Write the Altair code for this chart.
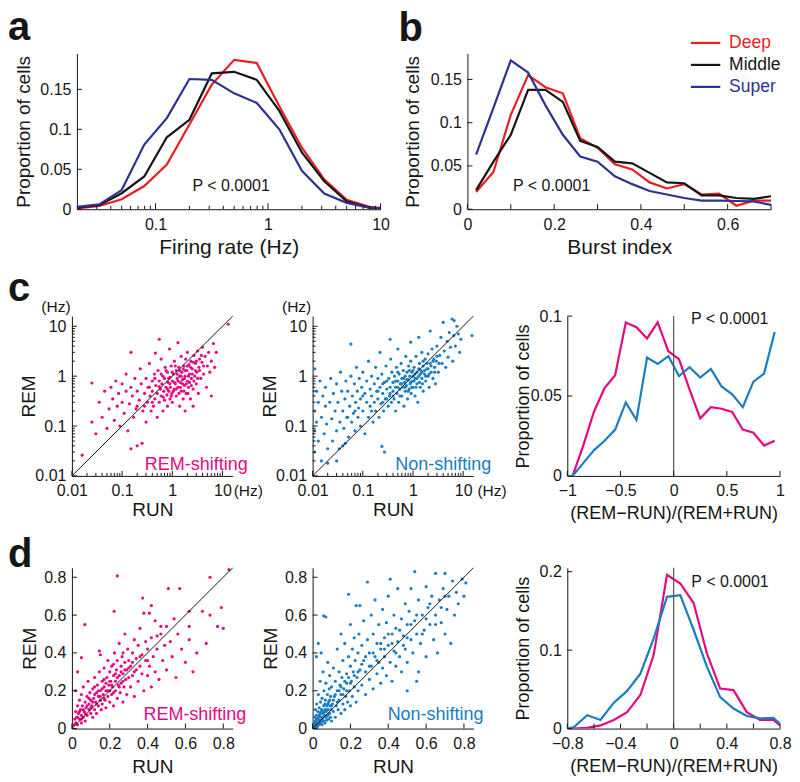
import altair as alt
import pandas as pd

FONT = "Liberation Sans"
RED = "#ec1c24"
BLACK = "#161616"
NAVY = "#2e3192"
MAGENTA = "#e5097f"
CYAN = "#1a7cc1"

layer_names = ["Deep", "Middle", "Super"]
layer_colors = [RED, BLACK, NAVY]

# ---------------- panel a : firing rate distributions
rate_bins = [0.02, 0.0316, 0.05, 0.0794, 0.126, 0.2, 0.316, 0.5, 0.794, 1.26, 2.0, 3.16, 5.0, 7.94, 12.6]
rate_deep = [0.001, 0.004, 0.0125, 0.029, 0.056, 0.106, 0.156, 0.187, 0.183, 0.129, 0.077, 0.0375, 0.0117, 0.003, 0.0]
rate_middle = [0.002, 0.005, 0.020, 0.041, 0.090, 0.112, 0.170, 0.172, 0.162, 0.123, 0.071, 0.035, 0.010, 0.002, 0.0]
rate_super = [0.003, 0.006, 0.024, 0.081, 0.114, 0.163, 0.162, 0.145, 0.133, 0.100, 0.048, 0.0196, 0.008, 0.002, 0.0]

# ---------------- panel b : burst index distributions
burst_bins = [0.02, 0.06, 0.10, 0.14, 0.18, 0.22, 0.26, 0.30, 0.34, 0.38, 0.42, 0.46, 0.50, 0.54, 0.58, 0.62, 0.66, 0.70]
burst_deep = [0.020, 0.043, 0.109, 0.155, 0.141, 0.134, 0.082, 0.071, 0.052, 0.046, 0.031, 0.024, 0.029, 0.017, 0.018, 0.004, 0.010, 0.010]
burst_middle = [0.022, 0.055, 0.086, 0.138, 0.138, 0.124, 0.079, 0.072, 0.055, 0.053, 0.042, 0.031, 0.030, 0.016, 0.016, 0.013, 0.012, 0.015]
burst_super = [0.063, 0.117, 0.172, 0.158, 0.120, 0.086, 0.061, 0.055, 0.038, 0.029, 0.021, 0.017, 0.013, 0.010, 0.010, 0.0095, 0.009, 0.005]

# ---------------- panel c : RUN vs REM firing rate (Hz)
c_shift_pts = [
    (0.016, 0.026), (0.025, 0.12), (0.025, 0.73), (0.03, 0.07), (0.035, 0.3), (0.04, 0.15), (0.045, 0.5), (0.05, 0.09),
    (0.055, 0.22), (0.06, 0.6), (0.065, 0.35), (0.07, 0.13), (0.075, 0.8), (0.08, 0.25), (0.085, 0.45), (0.09, 0.1),
    (0.1, 0.3), (0.1, 0.7), (0.11, 0.18), (0.12, 1.1), (0.12, 0.5), (0.13, 0.08), (0.14, 0.28), (0.15, 3.0),
    (0.15, 0.035), (0.15, 0.6), (0.16, 0.4), (0.17, 0.15), (0.18, 0.9), (0.19, 0.22), (0.2, 0.04), (0.2, 0.5),
    (0.22, 0.33), (0.23, 1.4), (0.24, 0.7), (0.25, 0.045), (0.26, 0.2), (0.28, 0.45), (0.3, 0.12), (0.3, 0.9),
    (0.32, 0.3), (0.33, 0.6), (0.35, 1.8), (0.36, 0.4), (0.38, 0.2), (0.4, 0.8), (0.4, 0.5), (0.42, 0.25),
    (0.44, 1.1), (0.45, 0.35), (0.46, 2.9), (0.47, 0.65), (0.5, 0.15), (0.5, 0.45), (0.52, 1.3), (0.55, 0.3),
    (0.55, 0.8), (0.58, 0.55), (0.6, 2.2), (0.6, 0.4), (0.62, 0.7), (0.65, 1.0), (0.65, 0.2), (0.68, 0.5),
    (0.7, 0.33), (0.7, 0.9), (0.72, 1.5), (0.75, 0.6), (0.78, 0.42), (0.8, 1.2), (0.8, 0.25), (0.82, 0.75),
    (0.85, 0.5), (0.88, 3.5), (0.9, 0.95), (0.9, 0.35), (0.92, 0.6), (0.95, 1.6), (0.98, 0.45),
    (1.0, 0.8), (1.0, 0.3), (1.05, 1.1), (1.1, 0.55), (1.1, 2.0), (1.15, 0.7), (1.2, 0.4), (1.2, 1.3),
    (1.25, 0.9), (1.3, 4.7), (1.3, 0.6), (1.35, 1.5), (1.4, 0.25), (1.4, 1.0), (1.45, 0.75), (1.5, 2.5),
    (1.5, 0.5), (1.55, 1.2), (1.6, 0.85), (1.65, 0.35), (1.7, 1.6), (1.75, 0.65), (1.8, 1.0), (1.85, 2.2),
    (1.9, 0.45), (1.95, 1.3), (2.0, 0.8), (2.0, 3.0), (2.1, 0.6), (2.15, 1.7), (2.2, 1.1), (2.3, 0.35),
    (2.35, 2.0), (2.4, 0.9), (2.5, 1.4), (2.6, 0.55), (2.7, 2.6), (2.8, 1.0), (2.9, 1.8), (3.0, 0.7),
    (3.1, 1.2), (3.2, 3.2), (3.3, 0.45), (3.4, 1.5), (3.5, 2.2), (3.7, 0.9), (3.9, 1.9), (4.0, 3.8),
    (4.2, 1.1), (4.5, 2.5), (4.8, 0.6), (5.0, 1.6), (5.3, 3.0), (5.6, 1.2), (6.0, 2.0), (6.6, 4.5),
    (7.0, 1.5), (7.5, 3.0), (13.0, 11.0), (0.55, 5.5), (1.8, 0.2), (2.6, 0.25), (6.0, 0.4),
]
c_shift_core = [
    (0.55, 0.62), (0.6, 1.1), (0.66, 0.38), (0.75, 1.3), (0.8, 0.55), (0.85, 0.9), (0.9, 0.7), (0.95, 0.4),
    (1.0, 1.2), (1.05, 0.5), (1.1, 0.75), (1.15, 1.6), (1.2, 0.55), (1.25, 1.1), (1.3, 0.8), (1.35, 0.45),
    (1.4, 1.3), (1.45, 0.6), (1.5, 1.0), (1.6, 0.7), (1.65, 1.4), (1.7, 0.5), (1.75, 0.9), (1.8, 1.3),
    (1.9, 0.7), (2.0, 1.6), (2.05, 0.45), (2.1, 1.0), (2.2, 0.75), (2.3, 1.5), (2.4, 0.65), (2.5, 1.1),
    (2.6, 1.9), (2.7, 0.8), (2.9, 1.3), (3.0, 2.0), (3.2, 0.9), (3.5, 1.3), (3.8, 2.6), (4.2, 1.6),
    (0.35, 0.6), (0.45, 0.9), (0.28, 0.25), (0.4, 0.3), (0.2, 0.25),
]
c_non_pts = [
    (0.011, 0.03), (0.011, 0.08), (0.011, 0.2), (0.012, 0.5), (0.011, 1.4), (0.012, 0.12), (0.013, 0.05), (0.013, 0.3),
    (0.014, 0.8), (0.015, 0.02), (0.015, 0.15), (0.016, 0.4), (0.017, 0.07), (0.018, 0.25), (0.018, 0.6), (0.019, 0.11),
    (0.02, 0.035), (0.02, 0.018), (0.022, 0.3), (0.023, 0.9), (0.024, 0.14), (0.025, 0.05), (0.026, 0.45), (0.028, 0.2),
    (0.03, 0.08), (0.03, 0.7), (0.032, 0.3), (0.034, 0.035), (0.035, 0.12), (0.036, 1.2), (0.038, 0.5), (0.04, 0.2),
    (0.04, 0.04), (0.042, 0.09), (0.044, 0.35), (0.046, 0.8), (0.048, 0.15), (0.05, 0.5), (0.052, 0.06), (0.055, 0.25),
    (0.058, 4.4), (0.058, 1.0), (0.06, 0.12), (0.062, 0.4), (0.065, 0.18), (0.068, 0.7), (0.07, 0.08), (0.072, 0.3),
    (0.075, 1.5), (0.078, 0.5), (0.08, 0.15), (0.082, 0.23), (0.085, 0.9), (0.09, 0.35), (0.09, 0.1), (0.095, 0.6),
    (0.1, 0.2), (0.1, 1.2), (0.11, 0.45), (0.11, 0.07), (0.12, 0.3), (0.12, 0.8), (0.13, 2.0), (0.13, 0.15),
    (0.14, 0.55), (0.14, 0.25), (0.15, 1.0), (0.15, 0.4), (0.16, 0.12), (0.17, 0.7), (0.17, 0.3), (0.18, 1.5),
    (0.18, 0.2), (0.19, 0.5), (0.2, 0.9), (0.2, 0.35), (0.21, 0.15), (0.22, 0.6), (0.22, 3.0), (0.23, 0.28),
    (0.24, 0.039), (0.24, 1.1), (0.25, 0.45), (0.26, 0.2), (0.27, 0.03), (0.27, 0.75), (0.28, 0.35), (0.29, 1.6),
    (0.3, 0.55), (0.32, 0.25), (0.33, 0.9), (0.34, 0.4), (0.35, 0.6), (0.36, 2.2), (0.37, 0.3), (0.38, 1.2),
    (0.4, 0.5), (0.4, 0.75), (0.42, 0.35), (0.43, 1.0), (0.45, 0.2), (0.45, 0.6), (0.47, 1.5), (0.48, 0.45),
    (0.5, 0.8), (0.5, 3.5), (0.52, 0.3), (0.53, 1.1), (0.55, 0.55), (0.56, 0.7), (0.58, 1.8), (0.6, 0.4),
    (0.6, 0.9), (0.62, 0.6), (0.64, 1.3), (0.66, 0.25), (0.68, 0.75), (0.7, 1.0), (0.7, 0.5), (0.72, 2.5),
    (0.74, 0.65), (0.76, 1.2), (0.78, 0.35), (0.8, 0.85), (0.82, 1.6), (0.84, 0.55), (0.86, 1.0), (0.88, 0.7),
    (0.9, 2.0), (0.92, 0.45), (0.95, 1.2), (0.97, 0.8), (1.0, 1.0), (1.0, 0.6), (1.05, 1.5), (1.1, 0.4),
    (1.1, 0.9), (1.15, 2.5), (1.2, 1.2), (1.2, 0.7), (1.25, 0.3), (1.3, 1.0), (1.35, 1.8), (1.4, 0.6),
    (1.45, 1.3), (1.5, 0.9), (1.5, 3.0), (1.6, 1.6), (1.6, 0.5), (1.7, 1.1), (1.75, 2.2), (1.8, 0.8),
    (1.9, 1.4), (2.0, 1.0), (2.0, 2.8), (2.1, 0.6), (2.2, 1.8), (2.3, 1.2), (2.4, 3.5), (2.5, 0.9),
    (2.6, 2.2), (2.7, 1.5), (2.8, 0.7), (2.9, 2.0), (3.0, 4.0), (3.2, 1.2), (3.4, 2.6), (3.6, 6.0),
    (3.8, 1.8), (4.0, 12.0), (4.2, 3.2), (4.5, 1.5), (4.8, 5.0), (5.0, 2.4), (5.3, 7.5), (5.6, 3.8),
    (6.0, 14.0), (6.2, 2.0), (6.5, 6.5), (7.0, 4.0), (7.5, 10.0), (8.0, 7.0), (8.5, 3.0), (9.0, 5.5),
    (15.0, 6.5), (6.6, 13.0), (0.9, 4.8), (1.3, 6.0), (2.2, 8.0), (0.35, 5.5), (0.03, 0.02), (0.045, 0.045),
]
c_non_core = [
    (0.3, 0.35), (0.35, 0.45), (0.4, 0.4), (0.45, 0.8), (0.5, 0.6), (0.55, 0.4), (0.6, 0.7), (0.65, 0.9),
    (0.7, 0.6), (0.75, 0.85), (0.8, 0.5), (0.85, 1.3), (0.9, 0.75), (0.95, 0.6), (1.0, 1.3), (1.05, 0.8),
    (1.1, 1.1), (1.15, 0.6), (1.2, 0.9), (1.3, 1.4), (1.35, 0.75), (1.4, 1.1), (1.5, 1.2), (1.55, 0.7),
    (1.6, 2.0), (1.7, 1.3), (1.8, 1.0), (1.9, 1.8), (2.0, 1.4), (2.1, 1.1), (2.3, 1.6), (2.5, 2.0),
    (2.7, 1.2), (3.0, 2.5), (3.3, 1.8), (0.25, 0.3), (0.2, 0.5), (0.15, 0.2), (0.1, 0.4), (0.07, 0.2),
    (0.05, 0.15), (0.3, 0.8), (0.5, 1.2), (0.25, 0.7),
]

ratio_bins_c = [-0.95, -0.85, -0.75, -0.65, -0.55, -0.45, -0.35, -0.25, -0.15, -0.05,
                0.05, 0.15, 0.25, 0.35, 0.45, 0.55, 0.65, 0.75, 0.85, 0.95]
ratio_c_shift = [0.0, 0.019, 0.040, 0.055, 0.063, 0.096, 0.093, 0.086, 0.096, 0.078,
                 0.073, 0.054, 0.036, 0.043, 0.042, 0.040, 0.029, 0.027, 0.019, 0.022]
ratio_c_non = [0.0, 0.008, 0.016, 0.022, 0.029, 0.046, 0.035, 0.074, 0.070, 0.075,
               0.0625, 0.068, 0.0615, 0.067, 0.056, 0.051, 0.043, 0.059, 0.064, 0.090]

# ---------------- panel d : RUN vs REM burst index
d_shift_pts = [
    (0.01, 0.02), (0.015, 0.05), (0.02, 0.03), (0.02, 0.09), (0.025, 0.06), (0.03, 0.02), (0.03, 0.12), (0.035, 0.08),
    (0.04, 0.05), (0.04, 0.15), (0.045, 0.1), (0.05, 0.03), (0.05, 0.07), (0.05, 0.18), (0.055, 0.12), (0.06, 0.06),
    (0.06, 0.22), (0.065, 0.09), (0.07, 0.14), (0.07, 0.04), (0.075, 0.11), (0.08, 0.17), (0.08, 0.07), (0.085, 0.25),
    (0.09, 0.1), (0.09, 0.13), (0.095, 0.19), (0.1, 0.08), (0.1, 0.15), (0.068, 0.55), (0.05, 0.375), (0.03, 0.3),
    (0.02, 0.2), (0.105, 0.12), (0.11, 0.21), (0.11, 0.06), (0.115, 0.16), (0.12, 0.1), (0.12, 0.27), (0.125, 0.14),
    (0.13, 0.19), (0.13, 0.08), (0.135, 0.23), (0.14, 0.12), (0.14, 0.17), (0.145, 0.41), (0.145, 0.3), (0.15, 0.39),
    (0.15, 0.15), (0.15, 0.2), (0.155, 0.1), (0.16, 0.25), (0.16, 0.13), (0.165, 0.18), (0.17, 0.22), (0.17, 0.32),
    (0.175, 0.15), (0.18, 0.2), (0.18, 0.11), (0.185, 0.27), (0.19, 0.17), (0.19, 0.36), (0.195, 0.23), (0.2, 0.14),
    (0.2, 0.3), (0.2, 0.2), (0.205, 0.25), (0.21, 0.18), (0.21, 0.33), (0.215, 0.22), (0.22, 0.12), (0.22, 0.28),
    (0.223, 0.62), (0.225, 0.4), (0.23, 0.2), (0.23, 0.25), (0.235, 0.31), (0.24, 0.807), (0.24, 0.16), (0.24, 0.36),
    (0.245, 0.23), (0.25, 0.28), (0.25, 0.45), (0.255, 0.19), (0.26, 0.33), (0.26, 0.24), (0.265, 0.38), (0.27, 0.14),
    (0.27, 0.29), (0.275, 0.22), (0.28, 0.35), (0.28, 0.5), (0.285, 0.26), (0.29, 0.31), (0.29, 0.18), (0.295, 0.42),
    (0.3, 0.27), (0.3, 0.36), (0.31, 0.22), (0.31, 0.33), (0.32, 0.4), (0.32, 0.28), (0.33, 0.47), (0.33, 0.17),
    (0.34, 0.31), (0.34, 0.37), (0.35, 0.25), (0.35, 0.44), (0.36, 0.33), (0.36, 0.53), (0.37, 0.29), (0.37, 0.39),
    (0.374, 0.69), (0.38, 0.61), (0.38, 0.2), (0.39, 0.36), (0.39, 0.46), (0.4, 0.28), (0.4, 0.42), (0.41, 0.61),
    (0.41, 0.33), (0.42, 0.65), (0.42, 0.48), (0.42, 0.22), (0.43, 0.38), (0.44, 0.57), (0.44, 0.3), (0.45, 0.49),
    (0.45, 0.42), (0.46, 0.26), (0.47, 0.54), (0.47, 0.5), (0.48, 0.36), (0.49, 0.44), (0.5, 0.54), (0.5, 0.31),
    (0.51, 0.74), (0.52, 0.46), (0.53, 0.38), (0.54, 0.58), (0.55, 0.27), (0.56, 0.5), (0.57, 0.74), (0.58, 0.42),
    (0.6, 0.35), (0.62, 0.62), (0.62, 0.54), (0.62, 0.47), (0.64, 0.3), (0.66, 0.4), (0.69, 0.62), (0.71, 0.45),
    (0.73, 0.6), (0.73, 0.8), (0.77, 0.54), (0.79, 0.64), (0.8, 0.53), (0.83, 0.84),
]
d_shift_core = [
    (0.06, 0.1), (0.07, 0.08), (0.08, 0.12), (0.09, 0.16), (0.1, 0.11), (0.11, 0.14), (0.12, 0.18), (0.13, 0.13),
    (0.14, 0.2), (0.15, 0.17), (0.16, 0.21), (0.17, 0.16), (0.18, 0.24), (0.19, 0.2), (0.2, 0.25), (0.21, 0.23),
    (0.22, 0.19), (0.23, 0.29), (0.24, 0.27), (0.25, 0.22), (0.26, 0.3), (0.27, 0.25), (0.28, 0.31), (0.3, 0.32),
    (0.32, 0.35), (0.05, 0.05), (0.04, 0.09), (0.03, 0.06), (0.12, 0.22), (0.17, 0.26), (0.22, 0.34), (0.27, 0.4),
    (0.33, 0.3), (0.36, 0.38), (0.4, 0.36),
]
d_non_pts = [
    (0.005, 0.01), (0.008, 0.03), (0.01, 0.005), (0.01, 0.06), (0.012, 0.02), (0.015, 0.1), (0.015, 0.04), (0.018, 0.015),
    (0.02, 0.07), (0.02, 0.03), (0.022, 0.13), (0.025, 0.05), (0.025, 0.01), (0.028, 0.09), (0.03, 0.03), (0.03, 0.18),
    (0.032, 0.06), (0.035, 0.11), (0.035, 0.02), (0.038, 0.045), (0.04, 0.08), (0.04, 0.25), (0.042, 0.14), (0.045, 0.035),
    (0.045, 0.06), (0.048, 0.1), (0.05, 0.02), (0.05, 0.16), (0.052, 0.05), (0.055, 0.08), (0.055, 0.3), (0.058, 0.12),
    (0.06, 0.04), (0.06, 0.2), (0.062, 0.07), (0.065, 0.1), (0.065, 0.03), (0.068, 0.15), (0.07, 0.06), (0.07, 0.24),
    (0.072, 0.09), (0.075, 0.045), (0.075, 0.12), (0.078, 0.18), (0.08, 0.07), (0.08, 0.35), (0.082, 0.1), (0.085, 0.05),
    (0.085, 0.14), (0.088, 0.21), (0.09, 0.08), (0.09, 0.28), (0.092, 0.12), (0.095, 0.06), (0.095, 0.17), (0.098, 0.1),
    (0.059, 0.596), (0.07, 0.59), (0.03, 0.45), (0.02, 0.38), (0.045, 0.4),
    (0.1, 0.04), (0.1, 0.22), (0.105, 0.13), (0.11, 0.09), (0.11, 0.32), (0.115, 0.17), (0.12, 0.06), (0.12, 0.25),
    (0.125, 0.12), (0.13, 0.2), (0.13, 0.42), (0.135, 0.1), (0.14, 0.15), (0.14, 0.3), (0.145, 0.23), (0.15, 0.08),
    (0.15, 0.18), (0.15, 0.5), (0.155, 0.27), (0.16, 0.13), (0.16, 0.36), (0.165, 0.21), (0.17, 0.1), (0.17, 0.45),
    (0.175, 0.17), (0.18, 0.29), (0.18, 0.24), (0.185, 0.14), (0.19, 0.38), (0.19, 0.71), (0.195, 0.2), (0.2, 0.33),
    (0.2, 0.12), (0.2, 0.55), (0.205, 0.25), (0.21, 0.42), (0.21, 0.17), (0.215, 0.3), (0.22, 0.48), (0.22, 0.22),
    (0.225, 0.36), (0.23, 0.65), (0.23, 0.14), (0.235, 0.27), (0.24, 0.4), (0.24, 0.2), (0.245, 0.5), (0.25, 0.65),
    (0.25, 0.31), (0.26, 0.23), (0.26, 0.44), (0.27, 0.36), (0.27, 0.57), (0.28, 0.18), (0.28, 0.3), (0.29, 0.775),
    (0.29, 0.47), (0.3, 0.26), (0.3, 0.4), (0.31, 0.6), (0.31, 0.33), (0.32, 0.21), (0.32, 0.5), (0.33, 0.38),
    (0.33, 0.68), (0.34, 0.29), (0.34, 0.45), (0.35, 0.55), (0.35, 0.35), (0.36, 0.24), (0.36, 0.42), (0.37, 0.63),
    (0.37, 0.32), (0.38, 0.48), (0.38, 0.38), (0.39, 0.28), (0.39, 0.56), (0.4, 0.44), (0.4, 0.7), (0.41, 0.79),
    (0.41, 0.35), (0.42, 0.5), (0.42, 0.25), (0.43, 0.6), (0.43, 0.41), (0.44, 0.33), (0.44, 0.53), (0.45, 0.46),
    (0.45, 0.74), (0.46, 0.38), (0.47, 0.58), (0.47, 0.3), (0.48, 0.49), (0.49, 0.66), (0.49, 0.42), (0.5, 0.55),
    (0.5, 0.35), (0.51, 0.62), (0.52, 0.47), (0.52, 0.74), (0.53, 0.4), (0.54, 0.83), (0.54, 0.57), (0.55, 0.5),
    (0.56, 0.3), (0.56, 0.68), (0.57, 0.45), (0.58, 0.6), (0.59, 0.52), (0.6, 0.75), (0.6, 0.38), (0.61, 0.64),
    (0.62, 0.55), (0.63, 0.7), (0.64, 0.47), (0.65, 0.82), (0.65, 0.6), (0.66, 0.4), (0.67, 0.68), (0.68, 0.56),
    (0.69, 0.74), (0.7, 0.82), (0.7, 0.5), (0.71, 0.63), (0.72, 0.7), (0.73, 0.45), (0.74, 0.78), (0.75, 0.6),
    (0.76, 0.72), (0.77, 0.66), (0.79, 0.79), (0.8, 0.7), (0.81, 0.77), (0.5, 0.2), (0.55, 0.25),
]
d_non_core = [
    (0.01, 0.02), (0.015, 0.015), (0.02, 0.05), (0.025, 0.025), (0.03, 0.045), (0.035, 0.07), (0.04, 0.03), (0.045, 0.09),
    (0.05, 0.06), (0.055, 0.04), (0.06, 0.09), (0.065, 0.13), (0.07, 0.1), (0.075, 0.07), (0.08, 0.13), (0.09, 0.15),
    (0.1, 0.12), (0.11, 0.15), (0.12, 0.18), (0.13, 0.14), (0.14, 0.2), (0.15, 0.22), (0.16, 0.18), (0.17, 0.25),
    (0.18, 0.2), (0.19, 0.27), (0.2, 0.24), (0.22, 0.28), (0.24, 0.3), (0.26, 0.34), (0.28, 0.38), (0.3, 0.33),
    (0.32, 0.4), (0.34, 0.36), (0.36, 0.45), (0.38, 0.42), (0.4, 0.5), (0.42, 0.45), (0.44, 0.4), (0.46, 0.52),
    (0.48, 0.44), (0.5, 0.48), (0.52, 0.55), (0.55, 0.6), (0.58, 0.5), (0.6, 0.58), (0.62, 0.66), (0.65, 0.55),
    (0.68, 0.64), (0.7, 0.7),
]

ratio_bins_d = [-0.8, -0.75, -0.65, -0.55, -0.45, -0.35, -0.25, -0.15, -0.05,
                0.05, 0.15, 0.25, 0.35, 0.45, 0.55, 0.65, 0.75, 0.8]
ratio_d_shift = [0.0, 0.0, 0.001, 0.004, 0.011, 0.021, 0.043, 0.094, 0.196,
                 0.185, 0.160, 0.096, 0.051, 0.049, 0.021, 0.011, 0.011, 0.004]
ratio_d_non = [0.0, 0.002, 0.017, 0.011, 0.033, 0.048, 0.070, 0.115, 0.168,
               0.170, 0.126, 0.079, 0.040, 0.0255, 0.016, 0.013, 0.0136, 0.006]

# tick positions
log_major_a = [0.1, 1, 10]
log_minor_a = [0.03, 0.04, 0.05, 0.06, 0.07, 0.08, 0.09, 0.2, 0.3, 0.4, 0.5, 0.6, 0.7, 0.8, 0.9,
               2, 3, 4, 5, 6, 7, 8, 9]
log_major_c = [0.01, 0.1, 1, 10]
log_minor_c = [0.02, 0.03, 0.04, 0.05, 0.06, 0.07, 0.08, 0.09, 0.2, 0.3, 0.4, 0.5, 0.6, 0.7, 0.8, 0.9,
               2, 3, 4, 5, 6, 7, 8, 9]
prop_ticks_ab = [0, 0.05, 0.1, 0.15]
burst_ticks = [0, 0.1, 0.2, 0.3, 0.4, 0.5, 0.6, 0.7]
burst_labels = [0, 0.2, 0.4, 0.6]
ratio_ticks_c = [-1, -0.5, 0, 0.5, 1]
prop_ticks_c = [0, 0.05, 0.1]
lin_ticks_d = [0, 0.2, 0.4, 0.6, 0.8]
ratio_ticks_d = [-0.8, -0.6, -0.4, -0.2, 0, 0.2, 0.4, 0.6, 0.8]
ratio_labels_d = [-0.8, -0.4, 0, 0.4, 0.8]
prop_ticks_d = [0, 0.1, 0.2]


# ---------------- helpers
def long_df(xs, series):
    rows = []
    for name, vals in series:
        for xv, yv in zip(xs, vals):
            rows.append({"x": xv, "y": yv, "grp": name})
    return pd.DataFrame(rows)


def pts_df(pts):
    return pd.DataFrame({"x": [p[0] for p in pts], "y": [p[1] for p in pts]})


def xaxis(title, values, tsize, ty):
    return alt.Axis(title=title, values=values, format="~g", ticks=False, tickSize=0,
                    domainColor=BLACK, domainWidth=1, labelFont=FONT, labelFontSize=16,
                    labelColor=BLACK, labelPadding=7, labelFlush=False, labelOverlap=False,
                    grid=False, titleFont=FONT, titleFontSize=tsize, titleFontWeight="normal",
                    titleColor=BLACK, titleAlign="center", titleBaseline="alphabetic", titleY=ty)


def yaxis(title, values, tsize, tx, offset=0):
    return alt.Axis(title=title, values=values, format="~g", ticks=False, tickSize=0,
                    domainColor=BLACK, domainWidth=1, labelFont=FONT, labelFontSize=16,
                    labelColor=BLACK, labelPadding=6, labelFlush=False, labelOverlap=False,
                    grid=False, titleFont=FONT, titleFontSize=tsize, titleFontWeight="normal",
                    titleColor=BLACK, titleAlign="center", titleBaseline="middle", titleX=tx,
                    offset=offset)


def xticks(vals, xs, xax, H, L):
    return alt.Chart(pd.DataFrame({"v": vals})).mark_rule(color=BLACK, strokeWidth=1).encode(
        x=alt.X("v:Q", scale=xs, axis=xax), y=alt.value(H), y2=alt.value(H - L))


def yticks(vals, ys, yax, L, x0=0):
    return alt.Chart(pd.DataFrame({"v": vals})).mark_rule(color=BLACK, strokeWidth=1).encode(
        y=alt.Y("v:Q", scale=ys, axis=yax), x=alt.value(x0), x2=alt.value(x0 + L))


def note(text, x, y, xs, xax, ys, yax, color=BLACK, size=16, align="left", baseline="alphabetic", dx=0, dy=0):
    return alt.Chart(pd.DataFrame({"x": [x], "y": [y], "t": [text]})).mark_text(
        font=FONT, fontSize=size, color=color, align=align, baseline=baseline, dx=dx, dy=dy).encode(
        x=alt.X("x:Q", scale=xs, axis=xax), y=alt.Y("y:Q", scale=ys, axis=yax), text="t:N")


def letter(ch, dx, dy):
    return alt.TitleParams(ch, anchor="start", frame="group", dx=dx, dy=dy, fontSize=40,
                           fontWeight="bold", font=FONT, color=BLACK, offset=0)


def spacer(w, h):
    return alt.Chart(pd.DataFrame({"z": [0]})).mark_point(opacity=0).encode(
        x=alt.X("z:Q", axis=None), y=alt.Y("z:Q", axis=None)).properties(width=w, height=h)


cscale = alt.Scale(domain=layer_names, range=layer_colors)

# ---------------- panel a  (plot box starts 5 px left of its y axis)
WA, HA = 309, 156
a_xs = alt.Scale(type="log", domain=[0.02, 10], nice=False, range=[5, WA])
a_ys = alt.Scale(domain=[0, 0.195], nice=False, zero=False)
a_xax = xaxis("Firing rate (Hz)", log_major_a, 21, 44)
a_yax = yaxis("Proportion of cells", prop_ticks_ab, 19, -53, offset=-5)
a_df = long_df(rate_bins, [("Deep", rate_deep), ("Middle", rate_middle), ("Super", rate_super)])
a_lines = alt.Chart(a_df).mark_line(strokeWidth=2.2, clip=True).encode(
    x=alt.X("x:Q", scale=a_xs, axis=a_xax),
    y=alt.Y("y:Q", scale=a_ys, axis=a_yax),
    color=alt.Color("grp:N", scale=cscale, legend=None),
    order=alt.Order("x:Q"))
panel_a = alt.layer(
    a_lines,
    xticks(log_major_a, a_xs, a_xax, HA, 6),
    xticks(log_minor_a, a_xs, a_xax, HA, 3.5),
    yticks(prop_ticks_ab, a_ys, a_yax, 5, x0=5),
    note("P < 0.0001", 0.213, 0.0225, a_xs, a_xax, a_ys, a_yax),
).properties(width=WA, height=HA, title=letter("a", -64, -5))

# ---------------- panel b
b_xs = alt.Scale(domain=[0, 0.7], nice=False, zero=False)
b_ys = alt.Scale(domain=[0, 0.18], nice=False, zero=False)
b_xax = xaxis("Burst index", burst_labels, 21, 44)
b_yax = yaxis("Proportion of cells", prop_ticks_ab, 19, -55)
b_df = long_df(burst_bins, [("Deep", burst_deep), ("Middle", burst_middle), ("Super", burst_super)])
legend_color = {"expr": "datum.label === 'Deep' ? '%s' : (datum.label === 'Middle' ? '%s' : '%s')" % (RED, BLACK, NAVY)}
b_lines = alt.Chart(b_df).mark_line(strokeWidth=2.2, clip=True).encode(
    x=alt.X("x:Q", scale=b_xs, axis=b_xax),
    y=alt.Y("y:Q", scale=b_ys, axis=b_yax),
    color=alt.Color("grp:N", scale=cscale, legend=alt.Legend(
        orient="none", legendX=225, legendY=-24, title=None, symbolType="M-1.2,0H1.2", symbolSize=600,
        symbolStrokeWidth=2.2, labelFont=FONT, labelFontSize=17.5, labelOffset=10, rowPadding=0,
        labelColor=legend_color)),
    order=alt.Order("x:Q"))
panel_b = alt.layer(
    b_lines,
    xticks(burst_ticks, b_xs, b_xax, HA, 5),
    yticks(prop_ticks_ab, b_ys, b_yax, 5),
    note("P < 0.0001", 0.105, 0.0206, b_xs, b_xax, b_ys, b_yax),
).properties(width=304, height=HA, title=letter("b", -69, 20))


# ---------------- scatter builders
def log_scatter(pts, color, label, label_x, title_letter, hz_right_dx):
    W, H = 161, 160
    xs = alt.Scale(type="log", domain=[0.01, 16], nice=False)
    ys = alt.Scale(type="log", domain=[0.01, 16], nice=False)
    xax = xaxis("RUN", log_major_c, 19, 40)
    yax = yaxis("REM", log_major_c, 19, -43)
    dots = alt.Chart(pts_df(pts)).mark_circle(size=10, color=color, opacity=1).encode(
        x=alt.X("x:Q", scale=xs, axis=xax), y=alt.Y("y:Q", scale=ys, axis=yax))
    diag = alt.Chart(pd.DataFrame({"x": [0.01, 16], "y": [0.01, 16]})).mark_line(
        color=BLACK, strokeWidth=1).encode(
        x=alt.X("x:Q", scale=xs, axis=xax), y=alt.Y("y:Q", scale=ys, axis=yax))
    ch = alt.layer(
        dots, diag,
        xticks(log_major_c, xs, xax, H, 5), xticks(log_minor_c, xs, xax, H, 3),
        yticks(log_major_c, ys, yax, 5), yticks(log_minor_c, ys, yax, 3),
        note(label, label_x, 0.013, xs, xax, ys, yax, color=color, size=18, align="center"),
        note("(Hz)", 0.01, 16, xs, xax, ys, yax, size=15.5, align="center", baseline="middle", dx=-16, dy=-9),
        note("(Hz)", 16, 0.01, xs, xax, ys, yax, size=15.5, align="left", baseline="middle", dx=hz_right_dx, dy=15),
    ).properties(width=W, height=H)
    if title_letter:
        ch = ch.properties(title=letter(title_letter, -64, 9))
    return ch


def lin_scatter(pts, color, label, title_letter):
    W, H = 161, 161
    xs = alt.Scale(domain=[0, 0.85], nice=False, zero=False)
    ys = alt.Scale(domain=[0, 0.85], nice=False, zero=False)
    xax = xaxis("RUN", lin_ticks_d, 19, 44)
    yax = yaxis("REM", lin_ticks_d, 19, -42)
    dots = alt.Chart(pts_df(pts)).mark_circle(size=10, color=color, opacity=1).encode(
        x=alt.X("x:Q", scale=xs, axis=xax), y=alt.Y("y:Q", scale=ys, axis=yax))
    diag = alt.Chart(pd.DataFrame({"x": [0, 0.85], "y": [0, 0.85]})).mark_line(
        color=BLACK, strokeWidth=1).encode(
        x=alt.X("x:Q", scale=xs, axis=xax), y=alt.Y("y:Q", scale=ys, axis=yax))
    ch = alt.layer(
        dots, diag,
        xticks(lin_ticks_d, xs, xax, H, 5), yticks(lin_ticks_d, ys, yax, 5),
        note(label, 0.65, 0.044, xs, xax, ys, yax, color=color, size=18, align="center"),
    ).properties(width=W, height=H)
    if title_letter:
        ch = ch.properties(title=letter(title_letter, -64, 9))
    return ch


def ratio_hist(bins, shift, non, xdom, xticks_v, xlabels, ydom, yvals, H, ptxt):
    W = 213
    xs = alt.Scale(domain=xdom, nice=False, zero=False)
    ys = alt.Scale(domain=ydom, nice=False, zero=False)
    xax = xaxis("(REM\u2212RUN)/(REM+RUN)", xlabels, 18, 43)
    yax = yaxis("Proportion of cells", yvals, 18, -44)
    df = long_df(bins, [("REM-shifting", shift), ("Non-shifting", non)])
    zero = alt.Chart(pd.DataFrame({"x": [0]})).mark_rule(color="#555555", strokeWidth=1.2).encode(
        x=alt.X("x:Q", scale=xs, axis=xax))
    lines = alt.Chart(df).mark_line(strokeWidth=2.2, clip=True).encode(
        x=alt.X("x:Q", scale=xs, axis=xax),
        y=alt.Y("y:Q", scale=ys, axis=yax),
        color=alt.Color("grp:N", scale=alt.Scale(domain=["REM-shifting", "Non-shifting"],
                                                 range=[MAGENTA, CYAN]), legend=None),
        order=alt.Order("x:Q"))
    return alt.layer(
        lines, zero,
        xticks(xticks_v, xs, xax, H, 5), yticks(yvals, ys, yax, 5),
        note("P < 0.0001", ptxt[0], ptxt[1], xs, xax, ys, yax),
    ).properties(width=W, height=H)


panel_c1 = log_scatter(c_shift_pts + c_shift_core, MAGENTA, "REM-shifting", 3.0, "c", 1)
panel_c2 = log_scatter(c_non_pts + c_non_core, CYAN, "Non-shifting", 4.0, None, 4)
panel_c3 = ratio_hist(ratio_bins_c, ratio_c_shift, ratio_c_non, [-1, 1], ratio_ticks_c, ratio_ticks_c,
                      [0, 0.1], prop_ticks_c, 160, (0.163, 0.095))

panel_d1 = lin_scatter(d_shift_pts + d_shift_core, MAGENTA, "REM-shifting", "d")
panel_d2 = lin_scatter(d_non_pts + d_non_core, CYAN, "Non-shifting", None)
panel_d3 = ratio_hist(ratio_bins_d, ratio_d_shift, ratio_d_non, [-0.8, 0.8], ratio_ticks_d, ratio_labels_d,
                      [0, 0.205], prop_ticks_d, 161, (0.133, 0.181))

row1 = alt.hconcat(panel_a, panel_b, spacing=87, bounds="flush").resolve_scale(color="independent")
row2 = alt.hconcat(panel_c1, spacer(60, 160), panel_c2, spacer(74, 160), panel_c3,
                   spacing=10, bounds="flush").resolve_scale(color="independent")
row3 = alt.hconcat(panel_d1, spacer(60, 161), panel_d2, spacer(74, 161), panel_d3,
                   spacing=10, bounds="flush").resolve_scale(color="independent")

top_rows = alt.concat(row1, row2, columns=1, align="none", spacing=12).resolve_scale(color="independent")
chart = alt.concat(top_rows, row3, columns=1, align="none", spacing=12).resolve_scale(
    color="independent").properties(
    padding={"left": 0, "top": 0, "right": 0, "bottom": 0}
).configure(font=FONT).configure_view(stroke="transparent", strokeWidth=0)

chart.save("out.html", embed_options={"renderer": "svg", "actions": False})
